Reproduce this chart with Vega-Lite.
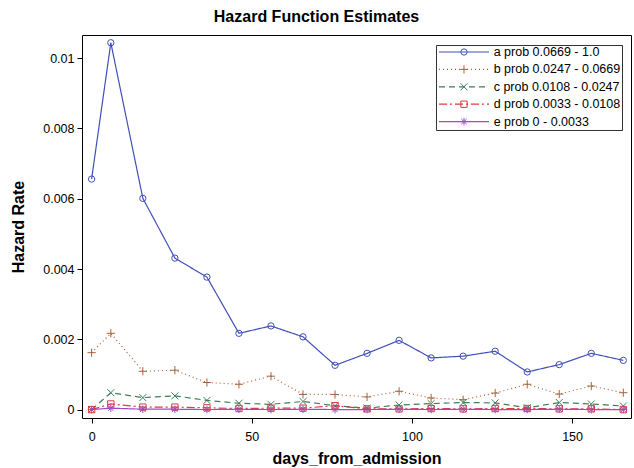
{
  "$schema": "https://vega.github.io/schema/vega-lite/v6.json",
  "width": 549,
  "height": 383,
  "autosize": "none",
  "padding": {"left": 82, "top": 35, "right": 3, "bottom": 50},
  "title": {"text": "Hazard Function Estimates", "fontSize": 16, "fontWeight": "bold", "font": "Liberation Sans", "anchor": "middle", "dx": -40, "offset": 10, "color": "black"},
  "config": {
    "view": {"stroke": "black", "strokeWidth": 1},
    "font": "Liberation Sans",
    "axis": {"grid": false, "domain": false, "tickColor": "black", "tickSize": 5, "labelColor": "black", "labelFontSize": 12.5, "labelFont": "Liberation Sans", "titleFont": "Liberation Sans", "titleFontSize": 16, "titleFontWeight": "bold", "titleColor": "black"}
  },
  "data": {"values": [
    {"series": "a prob 0.0669 - 1.0", "day": 0, "rate": 0.00656},
    {"series": "a prob 0.0669 - 1.0", "day": 6, "rate": 0.01044},
    {"series": "a prob 0.0669 - 1.0", "day": 16, "rate": 0.00601},
    {"series": "a prob 0.0669 - 1.0", "day": 26, "rate": 0.00431},
    {"series": "a prob 0.0669 - 1.0", "day": 36, "rate": 0.00377},
    {"series": "a prob 0.0669 - 1.0", "day": 46, "rate": 0.00217},
    {"series": "a prob 0.0669 - 1.0", "day": 56, "rate": 0.00238},
    {"series": "a prob 0.0669 - 1.0", "day": 66, "rate": 0.00207},
    {"series": "a prob 0.0669 - 1.0", "day": 76, "rate": 0.00126},
    {"series": "a prob 0.0669 - 1.0", "day": 86, "rate": 0.0016},
    {"series": "a prob 0.0669 - 1.0", "day": 96, "rate": 0.00197},
    {"series": "a prob 0.0669 - 1.0", "day": 106, "rate": 0.00147},
    {"series": "a prob 0.0669 - 1.0", "day": 116, "rate": 0.00152},
    {"series": "a prob 0.0669 - 1.0", "day": 126, "rate": 0.00166},
    {"series": "a prob 0.0669 - 1.0", "day": 136, "rate": 0.00107},
    {"series": "a prob 0.0669 - 1.0", "day": 146, "rate": 0.00128},
    {"series": "a prob 0.0669 - 1.0", "day": 156, "rate": 0.0016},
    {"series": "a prob 0.0669 - 1.0", "day": 166, "rate": 0.0014},
    {"series": "b prob 0.0247 - 0.0669", "day": 0, "rate": 0.00162},
    {"series": "b prob 0.0247 - 0.0669", "day": 6, "rate": 0.00217},
    {"series": "b prob 0.0247 - 0.0669", "day": 16, "rate": 0.00109},
    {"series": "b prob 0.0247 - 0.0669", "day": 26, "rate": 0.00112},
    {"series": "b prob 0.0247 - 0.0669", "day": 36, "rate": 0.00077},
    {"series": "b prob 0.0247 - 0.0669", "day": 46, "rate": 0.00072},
    {"series": "b prob 0.0247 - 0.0669", "day": 56, "rate": 0.00095},
    {"series": "b prob 0.0247 - 0.0669", "day": 66, "rate": 0.00043},
    {"series": "b prob 0.0247 - 0.0669", "day": 76, "rate": 0.00043},
    {"series": "b prob 0.0247 - 0.0669", "day": 86, "rate": 0.00036},
    {"series": "b prob 0.0247 - 0.0669", "day": 96, "rate": 0.00052},
    {"series": "b prob 0.0247 - 0.0669", "day": 106, "rate": 0.00033},
    {"series": "b prob 0.0247 - 0.0669", "day": 116, "rate": 0.00028},
    {"series": "b prob 0.0247 - 0.0669", "day": 126, "rate": 0.00047},
    {"series": "b prob 0.0247 - 0.0669", "day": 136, "rate": 0.00072},
    {"series": "b prob 0.0247 - 0.0669", "day": 146, "rate": 0.00044},
    {"series": "b prob 0.0247 - 0.0669", "day": 156, "rate": 0.00067},
    {"series": "b prob 0.0247 - 0.0669", "day": 166, "rate": 0.00048},
    {"series": "c prob 0.0108 - 0.0247", "day": 0, "rate": 0},
    {"series": "c prob 0.0108 - 0.0247", "day": 6, "rate": 0.00048},
    {"series": "c prob 0.0108 - 0.0247", "day": 16, "rate": 0.00034},
    {"series": "c prob 0.0108 - 0.0247", "day": 26, "rate": 0.00039},
    {"series": "c prob 0.0108 - 0.0247", "day": 36, "rate": 0.00026},
    {"series": "c prob 0.0108 - 0.0247", "day": 46, "rate": 0.00018},
    {"series": "c prob 0.0108 - 0.0247", "day": 56, "rate": 0.00015},
    {"series": "c prob 0.0108 - 0.0247", "day": 66, "rate": 0.00023},
    {"series": "c prob 0.0108 - 0.0247", "day": 76, "rate": 0.00011},
    {"series": "c prob 0.0108 - 0.0247", "day": 86, "rate": 0.00004},
    {"series": "c prob 0.0108 - 0.0247", "day": 96, "rate": 0.00013},
    {"series": "c prob 0.0108 - 0.0247", "day": 106, "rate": 0.00017},
    {"series": "c prob 0.0108 - 0.0247", "day": 116, "rate": 0.0002},
    {"series": "c prob 0.0108 - 0.0247", "day": 126, "rate": 0.00019},
    {"series": "c prob 0.0108 - 0.0247", "day": 136, "rate": 0.00005},
    {"series": "c prob 0.0108 - 0.0247", "day": 146, "rate": 0.0002},
    {"series": "c prob 0.0108 - 0.0247", "day": 156, "rate": 0.00016},
    {"series": "c prob 0.0108 - 0.0247", "day": 166, "rate": 0.0001},
    {"series": "d prob 0.0033 - 0.0108", "day": 0, "rate": 0},
    {"series": "d prob 0.0033 - 0.0108", "day": 6, "rate": 0.00016},
    {"series": "d prob 0.0033 - 0.0108", "day": 16, "rate": 0.00007},
    {"series": "d prob 0.0033 - 0.0108", "day": 26, "rate": 0.00007},
    {"series": "d prob 0.0033 - 0.0108", "day": 36, "rate": 0.00005},
    {"series": "d prob 0.0033 - 0.0108", "day": 46, "rate": 0.00003},
    {"series": "d prob 0.0033 - 0.0108", "day": 56, "rate": 0.00004},
    {"series": "d prob 0.0033 - 0.0108", "day": 66, "rate": 0.00004},
    {"series": "d prob 0.0033 - 0.0108", "day": 76, "rate": 0.00011},
    {"series": "d prob 0.0033 - 0.0108", "day": 86, "rate": 0.00002},
    {"series": "d prob 0.0033 - 0.0108", "day": 96, "rate": 0.00002},
    {"series": "d prob 0.0033 - 0.0108", "day": 106, "rate": 0.00003},
    {"series": "d prob 0.0033 - 0.0108", "day": 116, "rate": 0.00002},
    {"series": "d prob 0.0033 - 0.0108", "day": 126, "rate": 0.00003},
    {"series": "d prob 0.0033 - 0.0108", "day": 136, "rate": 0.00003},
    {"series": "d prob 0.0033 - 0.0108", "day": 146, "rate": 0.00002},
    {"series": "d prob 0.0033 - 0.0108", "day": 156, "rate": 0.00002},
    {"series": "d prob 0.0033 - 0.0108", "day": 166, "rate": 0},
    {"series": "e prob 0 - 0.0033", "day": 0, "rate": 0},
    {"series": "e prob 0 - 0.0033", "day": 6, "rate": 0.00004},
    {"series": "e prob 0 - 0.0033", "day": 16, "rate": 0.00001},
    {"series": "e prob 0 - 0.0033", "day": 26, "rate": 0.00001},
    {"series": "e prob 0 - 0.0033", "day": 36, "rate": 0},
    {"series": "e prob 0 - 0.0033", "day": 46, "rate": 0.00001},
    {"series": "e prob 0 - 0.0033", "day": 56, "rate": 0},
    {"series": "e prob 0 - 0.0033", "day": 66, "rate": 0.00001},
    {"series": "e prob 0 - 0.0033", "day": 76, "rate": 0},
    {"series": "e prob 0 - 0.0033", "day": 86, "rate": 0},
    {"series": "e prob 0 - 0.0033", "day": 96, "rate": 0.00001},
    {"series": "e prob 0 - 0.0033", "day": 106, "rate": 0},
    {"series": "e prob 0 - 0.0033", "day": 116, "rate": 0.00001},
    {"series": "e prob 0 - 0.0033", "day": 126, "rate": 0},
    {"series": "e prob 0 - 0.0033", "day": 136, "rate": 0},
    {"series": "e prob 0 - 0.0033", "day": 146, "rate": 0.00001},
    {"series": "e prob 0 - 0.0033", "day": 156, "rate": 0},
    {"series": "e prob 0 - 0.0033", "day": 166, "rate": 0}
  ]},
  "layer": [
    {
      "mark": {"type": "line", "strokeWidth": 1.2},
      "encoding": {
        "x": {"field": "day", "type": "quantitative", "scale": {"domain": [-3, 168.4], "nice": false, "zero": false}, "axis": {"values": [0, 50, 100, 150], "title": "days_from_admission", "labelPadding": 7, "titlePadding": 8}},
        "y": {"field": "rate", "type": "quantitative", "scale": {"domain": [-0.00024, 0.01066], "nice": false, "zero": false}, "axis": {"values": [0, 0.002, 0.004, 0.006, 0.008, 0.01], "format": ".3~f", "title": "Hazard Rate", "labelPadding": 3, "titlePadding": 16}},
        "color": {"field": "series", "type": "nominal", "scale": {"domain": ["a prob 0.0669 - 1.0", "b prob 0.0247 - 0.0669", "c prob 0.0108 - 0.0247", "d prob 0.0033 - 0.0108", "e prob 0 - 0.0033"], "range": ["#4150B8", "#A8643C", "#3D7F5A", "#E0393E", "#A048C8"]},
          "legend": {"title": null, "orient": "none", "legendX": 354, "legendY": 10, "symbolType": "stroke", "symbolSize": 2500, "symbolStrokeWidth": 1.2, "symbolOffset": 1, "labelOffset": 3.7, "labelFontSize": 12.5, "labelFont": "Liberation Sans", "labelColor": "black", "labelLimit": 300, "clipHeight": 12, "rowPadding": 4.4, "padding": 1, "strokeColor": "#333333"}},
        "strokeDash": {"field": "series", "type": "nominal", "scale": {"domain": ["a prob 0.0669 - 1.0", "b prob 0.0247 - 0.0669", "c prob 0.0108 - 0.0247", "d prob 0.0033 - 0.0108", "e prob 0 - 0.0033"], "range": [[1, 0], [1, 3], [6, 4], [8, 3, 2, 3], [1, 0]]},
          "legend": {"title": null, "orient": "none", "legendX": 354, "legendY": 10, "symbolType": "stroke", "symbolSize": 2500, "symbolStrokeWidth": 1.2, "symbolOffset": 1, "labelOffset": 3.7, "labelFontSize": 12.5, "labelFont": "Liberation Sans", "labelColor": "black", "labelLimit": 300, "clipHeight": 12, "rowPadding": 4.4, "padding": 1, "strokeColor": "#333333"}}
      }
    },
    {
      "mark": {"type": "point", "filled": false, "size": 40, "strokeWidth": 1, "opacity": 1},
      "encoding": {
        "x": {"field": "day", "type": "quantitative"},
        "y": {"field": "rate", "type": "quantitative"},
        "color": {"field": "series", "type": "nominal",
          "legend": {"title": null, "orient": "none", "legendX": 354, "legendY": 10, "symbolSize": 40, "symbolStrokeWidth": 1, "symbolOffset": 20.75, "labelOffset": 3.7, "labelFontSize": 12.5, "labelExpr": "''", "clipHeight": 12, "rowPadding": 4.4, "padding": 1}},
        "shape": {"field": "series", "type": "nominal", "scale": {"domain": ["a prob 0.0669 - 1.0", "b prob 0.0247 - 0.0669", "c prob 0.0108 - 0.0247", "d prob 0.0033 - 0.0108", "e prob 0 - 0.0033"], "range": ["circle", "M-1.3,0H1.3M0,-1.3V1.3", "M-1.1,-1.1L1.1,1.1M-1.1,1.1L1.1,-1.1", "square", "M-1.2,0H1.2M0,-1.2V1.2M-0.85,-0.85L0.85,0.85M-0.85,0.85L0.85,-0.85"]},
          "legend": {"title": null, "orient": "none", "legendX": 354, "legendY": 10, "symbolSize": 40, "symbolStrokeWidth": 1, "symbolOffset": 20.75, "labelOffset": 3.7, "labelFontSize": 12.5, "labelExpr": "''", "clipHeight": 12, "rowPadding": 4.4, "padding": 1}}
      }
    }
  ],
  "resolve": {"legend": {"color": "independent", "shape": "independent", "strokeDash": "independent"}}
}
